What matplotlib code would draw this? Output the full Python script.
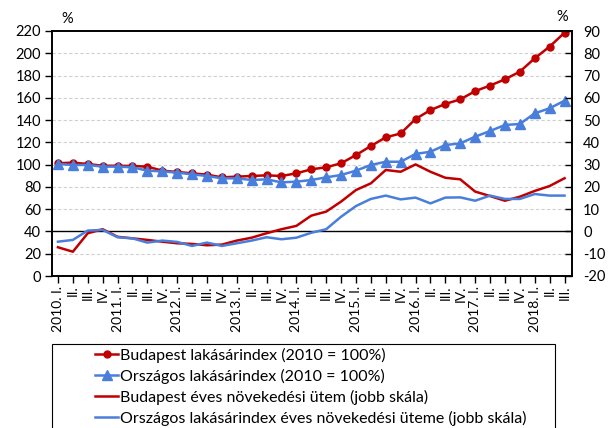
import numpy as np
import matplotlib.pyplot as plt
from matplotlib.patches import Rectangle
from matplotlib.lines import Line2D

plt.rcParams['font.family'] = ['Lato', 'DejaVu Sans']
plt.rcParams['axes.unicode_minus'] = False

years = ['2010', '2011', '2012', '2013', '2014', '2015', '2016', '2017', '2018']
quarters = ['I.', 'II.', 'III.', 'IV.']

# Budapest lakásárindex (2010 = 100%)
bp_index = [101.2, 101.8, 100.6, 99.0, 99.0, 98.8, 98.2, 94.6, 93.4, 92.2, 91.0, 88.6,
            89.2, 89.8, 90.4, 89.8, 92.2, 95.8, 97.6, 101.2, 108.6, 116.7, 124.5, 128.0,
            141.0, 149.0, 154.5, 158.6, 166.0, 171.0, 176.6, 183.5, 195.5, 206.0, 218.5]
# Országos lakásárindex (2010 = 100%)
hu_index = [100.6, 99.7, 99.7, 98.2, 98.2, 97.6, 94.6, 94.0, 92.8, 91.3, 89.8, 87.7,
            87.7, 86.2, 86.8, 84.1, 84.7, 86.2, 88.6, 90.7, 94.6, 99.7, 102.6, 102.6,
            109.6, 111.6, 117.6, 119.1, 125.1, 130.2, 135.6, 136.5, 146.1, 150.6, 157.4]
# éves növekedési ütem (jobb skála)
bp_growth = [-7.1, -9.1, -0.8, 1.0, -2.4, -3.1, -3.8, -4.6, -5.3, -5.6, -6.2, -5.9,
             -4.1, -2.8, -0.8, 1.0, 2.5, 7.1, 8.9, 13.4, 18.6, 21.6, 27.6, 26.8,
             30.1, 26.8, 24.1, 23.4, 17.9, 15.9, 13.8, 15.6, 18.2, 20.4, 23.9]
hu_growth = [-4.6, -3.8, 0.4, 0.7, -2.6, -3.1, -5.0, -4.1, -4.7, -6.5, -5.0, -6.5,
             -5.3, -4.1, -2.6, -3.5, -2.8, -0.6, 1.0, 6.6, 11.4, 14.6, 16.1, 14.4,
             15.2, 12.6, 15.2, 15.3, 13.8, 16.1, 14.6, 14.6, 16.8, 16.1, 16.1]

labels = []
for y in years:
    for q in quarters:
        labels.append(y + '. ' + q if q == 'I.' else q)
labels = labels[:len(bp_index)]
x = np.arange(len(labels))

red = '#C00000'
blue = '#4A7EDB'

W, H = 612, 428
fig = plt.figure(figsize=(W / 100, H / 100), dpi=100)
ax = fig.add_axes([52 / W, 1 - 276 / H, 520 / W, 245 / H])
ax2 = ax.twinx()

ax.plot(x, bp_index, color=red, lw=1.8, marker='o', ms=5, zorder=3)
ax.plot(x, hu_index, color=blue, lw=1.8, marker='^', ms=7, zorder=3)
ax2.plot(x, bp_growth, color=red, lw=1.8)
ax2.plot(x, hu_growth, color=blue, lw=1.8)
ax2.axhline(0, color='black', lw=1, zorder=1)

ax.set_ylim(0, 220)
ax.set_yticks(range(0, 221, 20))
ax2.set_ylim(-20, 90)
ax2.set_yticks(range(-20, 91, 10))
ax.set_xlim(-0.4, len(x) - 0.5)
ax.set_xticks(x)
ax.set_xticklabels(labels, rotation=90, fontsize=10)

for v in range(20, 220, 20):
    if v != 40:
        ax.axhline(v, color='#D0D0D0', lw=0.8, ls=(0, (3, 2)), zorder=0)

for a in (ax, ax2):
    for s in a.spines.values():
        s.set_color('black')
        s.set_linewidth(1.2)
ax.tick_params(axis='y', direction='out', length=5, width=1, labelsize=10.5, pad=3)
ax.tick_params(axis='x', direction='out', length=5, width=1, pad=2)
ax2.tick_params(axis='y', direction='in', length=5, width=1, labelsize=10.5, pad=8)

fig.text(67 / W, 1 - 19 / H, '%', fontsize=10.5, ha='center', va='center')
fig.text(562 / W, 1 - 17 / H, '%', fontsize=10.5, ha='center', va='center')

# legend
fig.patches.append(Rectangle((52 / W, -0.05), 503 / W, 0.05 + (H - 344) / H,
                             transform=fig.transFigure, fill=False,
                             edgecolor='black', lw=0.8))
handles = [
    Line2D([], [], color=red, lw=1.8, marker='o', ms=5),
    Line2D([], [], color=blue, lw=1.8, marker='^', ms=7),
    Line2D([], [], color=red, lw=1.8),
    Line2D([], [], color=blue, lw=1.8),
]
names = [
    'Budapest lakásárindex (2010 = 100%)',
    'Országos lakásárindex (2010 = 100%)',
    'Budapest éves növekedési ütem (jobb skála)',
    'Országos lakásárindex éves növekedési üteme (jobb skála)',
]
fig.legend(handles, names, loc='upper left', bbox_to_anchor=(95 / W, 1 - 348 / H),
           frameon=False, fontsize=11.5, handlelength=1.45, handletextpad=0.12,
           labelspacing=0.36, borderpad=0, borderaxespad=0)

fig.savefig('out.png', dpi=100)
